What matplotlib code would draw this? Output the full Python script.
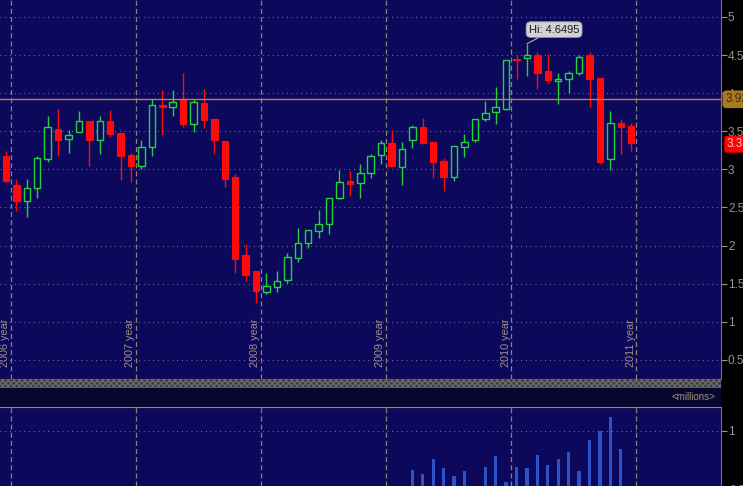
import matplotlib
matplotlib.use("Agg")
import matplotlib.pyplot as plt
import matplotlib.patches as mpatches
import matplotlib.transforms as mtransforms
import numpy as np
import pandas as pd

plt.rcParams['font.family'] = ['Liberation Sans', 'DejaVu Sans']

# ---------------- data ----------------
months = pd.date_range('2005-12-01', periods=61, freq='MS')
opens = [3.18, 2.80, 2.58, 2.76, 3.14, 3.53, 3.40, 3.49, 3.635, 3.38, 3.635, 3.48,
         3.19, 3.04, 3.29, 3.84, 3.815, 3.92, 3.59, 3.875, 3.66, 3.37, 2.90, 1.88,
         1.67, 1.395, 1.45, 1.55, 1.84, 2.04, 2.195, 2.28, 2.63, 2.85, 2.82, 2.95,
         3.185, 3.34, 3.035, 3.38, 3.56, 3.355, 3.11, 2.90, 3.30, 3.38, 3.66, 3.75,
         3.79, 4.45, 4.46, 4.50, 4.29, 4.165, 4.18, 4.26, 4.50, 4.195, 3.13, 3.605, 3.57]
highs = [3.24, 2.88, 2.88, 3.17, 3.70, 3.79, 3.52, 3.77, 3.64, 3.70, 3.78, 3.48,
         3.21, 3.39, 3.92, 4.04, 4.04, 4.26, 3.92, 4.06, 3.66, 3.37, 2.94, 2.02,
         1.67, 1.64, 1.67, 1.90, 2.235, 2.21, 2.47, 2.63, 2.99, 2.98, 3.07, 3.20,
         3.39, 3.52, 3.36, 3.58, 3.68, 3.36, 3.145, 3.31, 3.46, 3.66, 3.90, 4.08,
         4.44, 4.50, 4.6495, 4.545, 4.52, 4.26, 4.29, 4.50, 4.54, 4.20, 3.76, 3.66, 3.605]
lows = [2.83, 2.46, 2.38, 2.63, 3.10, 3.17, 3.21, 3.49, 3.04, 3.20, 3.43, 2.86,
        2.84, 3.01, 3.17, 3.45, 3.70, 3.55, 3.49, 3.54, 3.20, 2.77, 1.64, 1.53,
        1.24, 1.37, 1.395, 1.505, 1.79, 1.965, 2.10, 2.15, 2.61, 2.65, 2.63, 2.89,
        3.07, 3.035, 2.80, 3.285, 3.33, 2.89, 2.72, 2.85, 3.16, 3.36, 3.64, 3.60,
        3.785, 4.18, 4.226, 4.055, 4.14, 3.855, 4.00, 4.24, 3.815, 3.07, 2.99, 3.20, 3.245]
closes = [2.85, 2.59, 2.75, 3.15, 3.55, 3.39, 3.45, 3.64, 3.39, 3.63, 3.47, 3.18,
          3.04, 3.29, 3.85, 3.82, 3.89, 3.60, 3.88, 3.65, 3.38, 2.87, 1.83, 1.62,
          1.40, 1.47, 1.54, 1.85, 2.04, 2.205, 2.28, 2.62, 2.83, 2.81, 2.95, 3.18,
          3.34, 3.05, 3.27, 3.56, 3.34, 3.10, 2.90, 3.31, 3.355, 3.66, 3.74, 3.815,
          4.435, 4.43, 4.50, 4.27, 4.17, 4.19, 4.27, 4.48, 4.19, 3.10, 3.605, 3.56, 3.35]
volumes = [0.30, 0.28, 0.25, 0.31, 0.35, 0.29, 0.27, 0.30, 0.33, 0.28, 0.26, 0.30,
           0.32, 0.29, 0.36, 0.33, 0.30, 0.38, 0.34, 0.31, 0.36, 0.40, 0.45, 0.42,
           0.40, 0.35, 0.33, 0.37, 0.39, 0.36, 0.41, 0.44, 0.43, 0.40, 0.42, 0.45,
           0.44, 0.47, 0.46, 0.67, 0.64, 0.76, 0.69, 0.62, 0.66, 0.50, 0.70, 0.79,
           0.57, 0.70, 0.69, 0.80, 0.71, 0.76, 0.82, 0.66, 0.92, 1.00, 1.11, 0.85, 0.48]
years = [2006, 2007, 2008, 2009, 2010, 2011]
year_labels = ['2006 year', '2007 year', '2008 year', '2009 year', '2010 year', '2011 year']
price_ticks = [0.5, 1, 1.5, 2, 2.5, 3, 3.5, 4, 4.5, 5]
price_tick_labels = ['0.5', '1', '1.5', '2', '2.5', '3', '3.5', '4', '4.5', '5']
ref_level = 3.92
hi_value = 4.6495

# ---------------- style ----------------
BG = '#0c085c'
GREEN = '#22d43c'
RED = '#ff0a0a'
TXT = '#a39382'
GRID = '#8a86b0'
YEARLINE = '#8e8272'
ORANGE = '#c4803a'
VOLBLUE = '#2c52c8'

W, H = 743, 486
fig = plt.figure(figsize=(W / 100, H / 100), dpi=100, facecolor='black')

x = np.arange(len(months))
start = months[0]
# boundary between December and January of each year, in month-index units
year_pos = [(yr - start.year) * 12 + (1 - start.month) - 0.5 for yr in years]
xlim = (-0.576, 68.62)

def fr(px_left, px_top, px_w, px_h):
    return [px_left / W, 1 - (px_top + px_h) / H, px_w / W, px_h / H]

# ---------------- price panel ----------------
ax = fig.add_axes(fr(0, 0, 721, 379))
ax.set_facecolor(BG)
ax.set_xlim(*xlim)
ax.set_ylim(0.249, 5.223)

for t in price_ticks:
    ax.axhline(t, color=GRID, lw=0.8, ls=(0, (0.7, 3.6)), zorder=1)
for yp in year_pos:
    ax.axvline(yp, color=YEARLINE, lw=0.9, ls=(0, (4, 2.5)), zorder=1)

o = np.array(opens); c = np.array(closes); h = np.array(highs); l = np.array(lows)
up = c >= o
cols = np.where(up, GREEN, RED)
ax.vlines(x, l, h, colors=cols, lw=1.0, zorder=2)
bottoms = np.minimum(o, c)
heights = np.maximum(np.abs(c - o), 0.02)
ax.bar(x[up], heights[up], bottom=bottoms[up], width=0.62, facecolor=BG,
       edgecolor=GREEN, linewidth=1.0, zorder=3)
ax.bar(x[~up], heights[~up], bottom=bottoms[~up], width=0.62, facecolor=RED,
       edgecolor=RED, linewidth=0.8, zorder=3)

ax.axhline(ref_level, color=ORANGE, lw=1.0, zorder=4)

for yp, lab in zip(year_pos, year_labels):
    ax.text(yp - 0.08, 0.41, lab, rotation=90, ha='right', va='bottom',
            color=TXT, fontsize=7.8, zorder=5)

ax.yaxis.tick_right()
ax.set_yticks(price_ticks)
ax.set_yticklabels(price_tick_labels)
ax.tick_params(axis='y', colors=TXT, labelcolor=TXT, labelsize=8.5,
               length=4, width=0.8, pad=1, direction='out')
ax.set_xticks([])
for s in ['top', 'left']:
    ax.spines[s].set_visible(False)
ax.spines['right'].set_color('#8e7050')
ax.spines['bottom'].set_color('#8e7050')

# Hi annotation
hi_idx = int(np.argmax(h))
ax.annotate(f'Hi: {hi_value}', xy=(x[hi_idx], hi_value), xytext=(hi_idx + 2.6, 4.835),
            ha='center', va='center', fontsize=8, color='#1a1a1a',
            bbox=dict(boxstyle='round,pad=0.25,rounding_size=0.4', fc='#d2d2d6', ec='#9a9aa0', lw=0.6),
            arrowprops=dict(arrowstyle='-', color='#b0b0b8', lw=0.8,
                            shrinkA=0, shrinkB=0), zorder=6)

# right-side price markers
bt = mtransforms.blended_transform_factory(ax.transAxes, ax.transData)
ax.text(1.006, ref_level, f'{ref_level:.2f}', transform=bt, ha='left', va='center',
        fontsize=8.5, color='#3a2808', clip_on=False, zorder=7,
        bbox=dict(boxstyle='round,pad=0.18,rounding_size=0.25', fc='#a87a22', ec='#a87a22'))
ax.text(1.008, closes[-1] - 0.02, f'{closes[-1]:.2f}', transform=bt, ha='left', va='center',
        fontsize=8.5, color='#ffc8c8', clip_on=False, zorder=7,
        bbox=dict(boxstyle='round,pad=0.15,rounding_size=0.2', fc='#ff0000', ec='#ff0000'))

# ---------------- separator and header ----------------
sep = mpatches.Rectangle((0, 1 - 388 / H), 721 / W, 9 / H, transform=fig.transFigure,
                         facecolor='#3c3c3c', edgecolor='#6a6a6a', hatch='xxxxxx',
                         linewidth=0)
fig.patches.append(sep)
hdr = mpatches.Rectangle((0, 1 - 407 / H), 721 / W, 19 / H, transform=fig.transFigure,
                         facecolor='#07062e', edgecolor='none')
fig.patches.append(hdr)
fig.text(715 / W, 1 - 397 / H, '<millions>', ha='right', va='center',
         fontsize=7, color=TXT)

# ---------------- volume panel ----------------
axv = fig.add_axes(fr(0, 407, 721, 79))
axv.set_facecolor(BG)
axv.set_xlim(*xlim)
axv.set_ylim(0.539, 1.1975)
axv.axhline(1.0, color=GRID, lw=0.8, ls=(0, (0.7, 3.6)), zorder=1)
for yp in year_pos:
    axv.axvline(yp, color=YEARLINE, lw=0.9, ls=(0, (4, 2.5)), zorder=1)
axv.bar(x, volumes, width=0.32, color=VOLBLUE, zorder=2)
axv.yaxis.tick_right()
axv.set_yticks([1.0])
axv.set_yticklabels(['1'])
axv.tick_params(axis='y', colors=TXT, labelcolor=TXT, labelsize=8.5,
                length=4, width=0.8, pad=1)
axv.set_xticks(year_pos)
axv.tick_params(axis='x', colors='#8e7050', direction='in', length=3,
                labelbottom=False, top=True, bottom=False)
bv = mtransforms.blended_transform_factory(axv.transAxes, axv.transData)
axv.text(1.012, 0.5, '0.5', transform=bv, ha='left', va='center', fontsize=8.5,
         color=TXT, clip_on=False)
for s in ['left', 'bottom']:
    axv.spines[s].set_visible(False)
axv.spines['top'].set_color(ORANGE)
axv.spines['right'].set_color('#8e7050')

fig.savefig('out.png', dpi=100, facecolor='black')
